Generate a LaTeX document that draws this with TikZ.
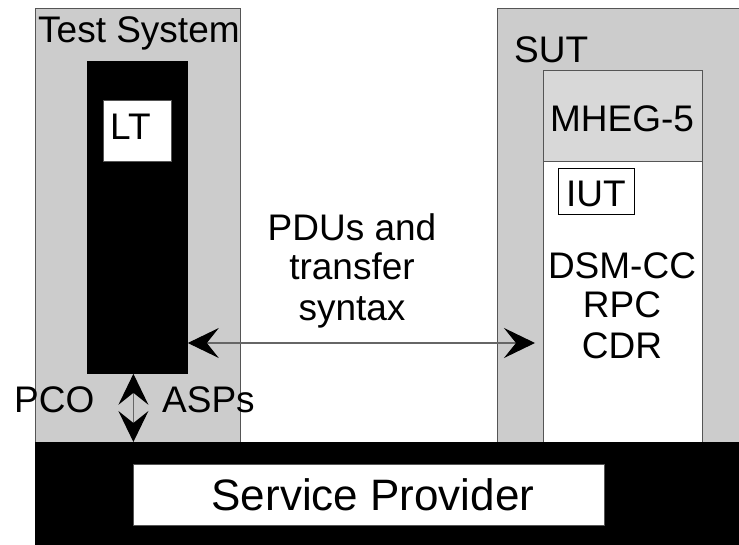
\documentclass[tikz,border=0pt]{standalone}
\usepackage{fontspec}
\setmainfont{Liberation Sans}
\usetikzlibrary{arrows.meta}
\definecolor{panel}{HTML}{CCCCCC}
\definecolor{layer}{HTML}{D8D8D8}
\definecolor{rim}{HTML}{555555}
\definecolor{wire}{HTML}{666666}
\tikzset{
  block/.style={draw=rim, line width=0.8pt, inner sep=0pt, anchor=north west},
  greybox/.style={block, fill=panel},
  blackbox/.style={block, draw=black, fill=black},
  whitebox/.style={block, fill=white},
  label/.style={inner sep=0pt, font=\fontsize{37}{40}\selectfont},
  conn/.style={draw=wire, line width=1.1pt,
    >={Stealth[length=31pt, width=30pt, inset=12pt, black]}, <->}
}
\begin{document}
\begin{tikzpicture}[x=1pt, y=-1pt]
\useasboundingbox (0,0) rectangle (739,545);
\fill[white] (0,0) rectangle (739,545);

% tester side
\node[greybox, minimum width=205pt, minimum height=434pt] (ts) at (35,8) {};
\node[blackbox, minimum width=100pt, minimum height=312pt] (ltbar) at (87,61) {};
\node[whitebox, minimum width=68pt, minimum height=61pt] (lt) at (103,100) {};
\node[label, anchor=base west] (tstitle) at (38,43) {Test System};
\node[label, anchor=base west] (ltlabel) at (110,140) {LT};

% system under test
\node[greybox, minimum width=260pt, minimum height=434pt] (sut) at (497,8) {};
\node[whitebox, minimum width=159pt, minimum height=372pt] (stack) at (543,70) {};
\node[block, fill=layer, minimum width=159pt, minimum height=91pt] (mheg) at (543,70) {};
\node[whitebox, draw=black, minimum width=76pt, minimum height=46pt] (iut) at (558,168) {};
\node[label, anchor=base west] (suttitle) at (514,63) {SUT};
\node[label, anchor=base] (mheglabel) at (622,132) {MHEG-5};
\node[label, anchor=base] (iutlabel) at (596,207) {IUT};
% the base anchor of a multi-line node sits on its last line
\node[label, anchor=base, align=center] (protos) at (622,358) {DSM-CC\\RPC\\CDR};

% service provider
\node[blackbox, minimum width=720pt, minimum height=110pt] (spbar) at (35,442) {};
\node[whitebox, minimum width=471pt, minimum height=61pt] (sp) at (133,464) {};
\node[inner sep=0pt, anchor=base, font=\fontsize{44}{48}\selectfont] (splabel) at (373,510) {Service Provider};

% peer-to-peer exchange
\node[label, anchor=base, align=center] (pdus) at (352,320) {PDUs and\\transfer\\syntax};
\coordinate (sutin) at (535,343);
\draw[conn] (ltbar.east |- sutin) -- (sutin);

% service access
\node[label, anchor=base west] (pco) at (14,412) {PCO};
\node[label, anchor=base west] (asps) at (162,412) {ASPs};
\draw[conn] ([xshift=-4pt]ltbar.south) -- ([xshift=-4pt]ltbar.south |- spbar.north);
\end{tikzpicture}
\end{document}
